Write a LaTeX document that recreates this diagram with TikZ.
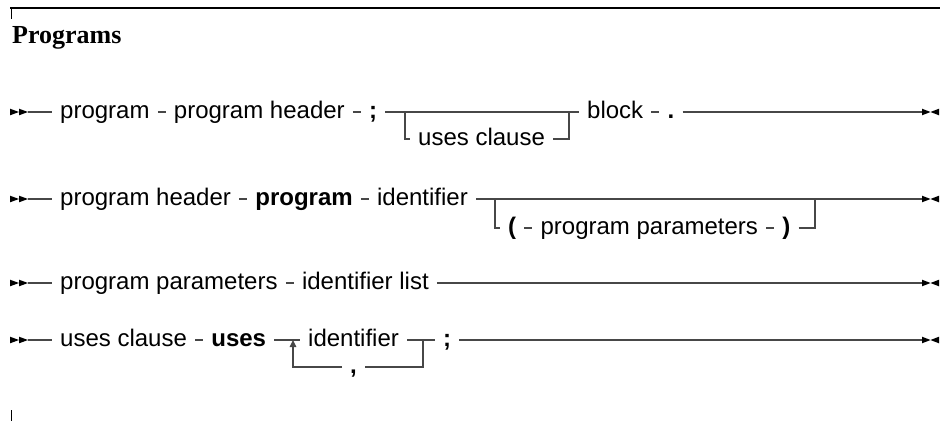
\documentclass[tikz,border=0pt]{standalone}
\usepackage{fontspec}
\setmainfont{Liberation Serif}
\newfontfamily\rowfont{Liberation Sans}
\usetikzlibrary{positioning,calc,arrows.meta}
\begin{document}
\begin{tikzpicture}[x=1bp,y=-1bp,
  lin/.style={draw=black!72, line width=1.1bp},
  txt/.style={font={\rowfont\fontsize{24bp}{28bp}\selectfont}, inner xsep=8bp, inner ysep=0pt, text height=17bp, text depth=5bp, anchor=west},
  kw/.style={txt, font={\rowfont\bfseries\fontsize{24bp}{28bp}\selectfont}},
  node distance=8bp,
  startmk/.pic={\fill[black] (-18,-3.3) -- (-9,0) -- (-18,3.3) -- cycle;
                \fill[black] (-9,-3.3) -- (0,0) -- (-9,3.3) -- cycle;},
  endmk/.pic={\fill[black] (0,-3.3) -- (8.5,0) -- (0,3.3) -- cycle;
              \fill[black] (17,-3.3) -- (8.5,0) -- (17,3.3) -- cycle;}]
\useasboundingbox (0,0) rectangle (940,421);
% frame marks
\draw[line width=2bp] (10,8) -- (940,8);
\draw[line width=1bp] (11,8) -- (11,19);
\draw[line width=1bp] (11,410) -- (11,421);
\node[anchor=base west, inner sep=0pt, font={\bfseries\fontsize{26bp}{30bp}\selectfont}] (title) at (12,43) {Programs};

% Row 1: program
\coordinate (s1) at (28,112);
\pic at (s1) {startmk};
\node[txt] (p1) at (52,112) {program};
\node[txt,right=of p1] (p2) {program header};
\node[kw,right=of p2] (p3) {;};
\coordinate (p1sp) at (405,112);
\coordinate (p1jn) at (569,112);
\node[txt] (p4) at (410,139) {uses clause};
\node[txt] (p5) at (579,112) {block};
\node[kw,right=of p5] (p6) {.};
\coordinate (e1) at (922,112);
\pic at (e1) {endmk};
\draw[lin] (s1) -- (p1.west);
\draw[lin] (p1) -- (p2);
\draw[lin] (p2) -- (p3);
\draw[lin] (p3) -- (p5);
\draw[lin] (p5) -- (p6);
\draw[lin] (p6) -- (e1);
\draw[lin] (p1sp) |- (p4.west);
\draw[lin] (p4.east) -| (p1jn);

% Row 2: program header
\coordinate (s2) at (28,199);
\pic at (s2) {startmk};
\node[txt] (q1) at (52,199) {program header};
\node[kw,right=of q1] (q2) {program};
\node[txt,right=of q2] (q3) {identifier};
\coordinate (q2sp) at (495,199);
\coordinate (q2jn) at (815,199);
\node[kw] (q4) at (500,228) {(};
\node[txt,right=of q4] (q5) {program parameters};
\node[kw,right=of q5] (q6) {)};
\coordinate (e2) at (922,199);
\pic at (e2) {endmk};
\draw[lin] (s2) -- (q1.west);
\draw[lin] (q1) -- (q2);
\draw[lin] (q2) -- (q3);
\draw[lin] (q3) -- (e2);
\draw[lin] (q2sp) |- (q4.west);
\draw[lin] (q4) -- (q5);
\draw[lin] (q5) -- (q6);
\draw[lin] (q6.east) -| (q2jn);

% Row 3: program parameters
\coordinate (s3) at (28,283);
\pic at (s3) {startmk};
\node[txt] (r1) at (52,283) {program parameters};
\node[txt,right=of r1] (r2) {identifier list};
\coordinate (e3) at (922,283);
\pic at (e3) {endmk};
\draw[lin] (s3) -- (r1.west);
\draw[lin] (r1) -- (r2);
\draw[lin] (r2) -- (e3);

% Row 4: uses clause
\coordinate (s4) at (28,340);
\pic at (s4) {startmk};
\node[txt] (u1) at (52,340) {uses clause};
\node[kw,right=of u1] (u2) {uses};
\coordinate (u2sp) at (293,340);
\node[txt] (u3) at (300,340) {identifier};
\coordinate (u2jn) at (423,340);
\node[kw] (u4) at (435,340) {;};
\node[kw] (u5) at (342,367) {,};
\coordinate (e4) at (922,340);
\pic at (e4) {endmk};
\draw[lin] (s4) -- (u1.west);
\draw[lin] (u1) -- (u2);
\draw[lin] (u2) -- (u3);
\draw[lin] (u3) -- (u4);
\draw[lin] (u4) -- (e4);
\draw[lin] (u2jn) |- (u5.east);
\draw[lin,-{Triangle[length=7bp,width=6.5bp]}] (u5.west) -| (u2sp);
\end{tikzpicture}
\end{document}
